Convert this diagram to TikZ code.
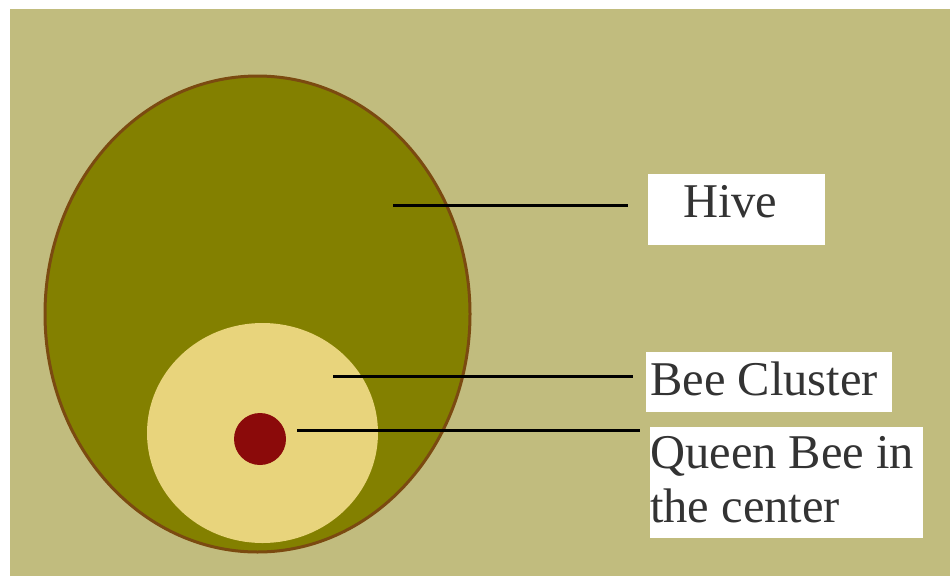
\documentclass[tikz,border=0pt]{standalone}
\usepackage{fontspec}
\setmainfont{Liberation Serif}
\usetikzlibrary{shapes.geometric}
\definecolor{bgc}{HTML}{C1BC7E}
\definecolor{hivec}{HTML}{838000}
\definecolor{rimc}{HTML}{7B4A10}
\definecolor{clusterc}{HTML}{E8D47C}
\definecolor{queenc}{HTML}{8B0A0A}
\definecolor{txtc}{HTML}{333333}
\begin{document}
\begin{tikzpicture}[x=1pt,y=-1pt,
  labelbox/.style={draw=none,fill=white,inner sep=0pt,anchor=north west},
  labeltext/.style={inner sep=0pt,anchor=base west,text=txtc,font=\fontsize{48.5}{54}\selectfont,align=left},
  leader/.style={draw=black,line width=3pt}]
\useasboundingbox (0,0) rectangle (950,576);
\fill[white] (0,0) rectangle (950,576);
\fill[bgc] (10,9) rectangle (950,576);
% hive
\node[ellipse,draw=rimc,line width=3pt,fill=hivec,minimum width=425pt,minimum height=476pt,inner sep=0pt] (hive) at (257.5,314) {};
% cluster
\node[ellipse,fill=clusterc,minimum width=231pt,minimum height=220pt,inner sep=0pt] (cluster) at (262.5,433) {};
% queen
\node[circle,fill=queenc,minimum size=52pt,inner sep=0pt] (queen) at (260,439) {};
% label boxes
\node[labelbox,minimum width=177pt,minimum height=71pt] (hivebox) at (648,174) {};
\node[labelbox,minimum width=246pt,minimum height=60pt] (clusterbox) at (646,352) {};
\node[labelbox,minimum width=273pt,minimum height=111pt] (queenbox) at (650,427) {};
\node[labeltext] (hivetext) at (683,217) {Hive};
\node[labeltext] (clustertext) at (650,395) {Bee Cluster};
\node[labeltext] (queentext) at (650,522) {Queen Bee in\\the center};
% leader lines
\coordinate (hivept) at (393,205);
\coordinate (clusterpt) at (333,376);
\coordinate (queenpt) at (297,430);
\draw[leader] (hivept) -- ([xshift=-20pt]hivebox.west |- hivept);
\draw[leader] (clusterpt) -- ([xshift=-13pt]clusterbox.west |- clusterpt);
\draw[leader] (queenpt) -- ([xshift=-10pt]queenbox.west |- queenpt);
\end{tikzpicture}
\end{document}
